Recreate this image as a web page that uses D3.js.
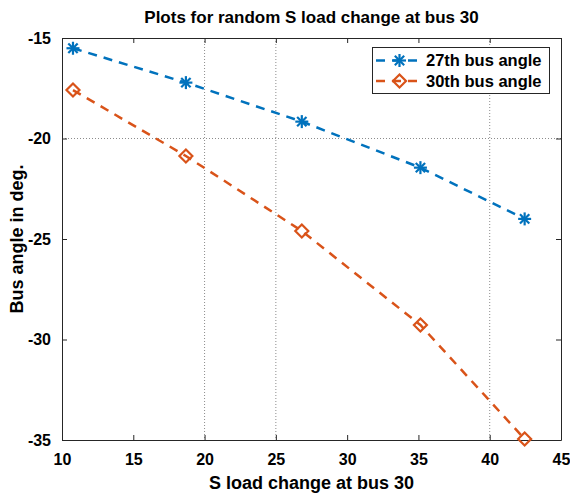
<!DOCTYPE html>
<html>
<head>
<meta charset="utf-8">
<script src="https://cdn.jsdelivr.net/npm/d3@7"></script>
<style>
  body { margin: 0; background: #fff; }
  text { font-family: "Liberation Sans", Arial, sans-serif; font-weight: bold; fill: #000; }
</style>
</head>
<body>
<div id="chart"></div>
<script>
// values
var loadChange = [10.77, 18.69, 26.82, 35.14, 42.45];
var bus27Angle = [-15.51, -17.22, -19.16, -21.45, -24.0];
var bus30Angle = [-17.59, -20.87, -24.60, -29.28, -34.95];
var xTicks = [10, 15, 20, 25, 30, 35, 40, 45];
var yTicks = [-35, -30, -25, -20, -15];
var xGrid = [20, 25, 40];
var yGrid = [-20];
var seriesNames = ["27th bus angle", "30th bus angle"];

var width = 570, height = 494;
var plotL = 62, plotR = 561, plotT = 38, plotB = 440;

var svg = d3.select('#chart').append('svg')
    .attr('width', width)
    .attr('height', height);

var x = d3.scaleLinear().domain([10, 45]).range([plotL, plotR]);
var y = d3.scaleLinear().domain([-35, -15]).range([plotB, plotT]);

// dotted grid lines (only the few that appear in the picture)
svg.append("g").selectAll("line")
  .data(xGrid)
  .enter().append("line")
    .attr("x1", function(d) { return x(d); })
    .attr("x2", function(d) { return x(d); })
    .attr("y1", plotT).attr("y2", plotB)
    .attr("stroke", "#8c8c8c")
    .attr("stroke-width", 1)
    .attr("stroke-dasharray", "1,2");
svg.append("g").selectAll("line")
  .data(yGrid)
  .enter().append("line")
    .attr("y1", function(d) { return y(d); })
    .attr("y2", function(d) { return y(d); })
    .attr("x1", plotL).attr("x2", plotR)
    .attr("stroke", "#8c8c8c")
    .attr("stroke-width", 1)
    .attr("stroke-dasharray", "1,2");

// plain hyphen for negatives, like matlab
var fmt = function(d) { return String(d); };

// axes, ticks pointing inward like matlab
var xAxis = svg.append("g")
    .attr("transform", "translate(0," + plotB + ")")
    .call(d3.axisBottom(x).tickValues(xTicks).tickFormat(fmt).tickSizeInner(-5).tickSizeOuter(0).tickPadding(14));
var xAxisTop = svg.append("g")
    .attr("transform", "translate(0," + plotT + ")")
    .call(d3.axisTop(x).tickValues(xTicks).tickSizeInner(-5).tickSizeOuter(0).tickFormat(""));
var yAxis = svg.append("g")
    .attr("transform", "translate(" + plotL + ",0)")
    .call(d3.axisLeft(y).tickValues(yTicks).tickFormat(fmt).tickSizeInner(-5).tickSizeOuter(0).tickPadding(11));
var yAxisRight = svg.append("g")
    .attr("transform", "translate(" + plotR + ",0)")
    .call(d3.axisRight(y).tickValues(yTicks).tickSizeInner(-5).tickSizeOuter(0).tickFormat(""));

[xAxis, xAxisTop, yAxis, yAxisRight].forEach(function(a) {
  a.selectAll("path").attr("stroke", "#262626").attr("stroke-width", 1);
  a.selectAll("line").attr("stroke", "#262626");
  a.selectAll("text").style("font-size", "16px").attr("fill", "#000");
});
xAxis.selectAll("text").attr("dy", "0.71em");

var line = d3.line()
    .x(function(d) { return x(d[0]); })
    .y(function(d) { return y(d[1]); });

var s27 = loadChange.map(function(v, i) { return [v, bus27Angle[i]]; });
var s30 = loadChange.map(function(v, i) { return [v, bus30Angle[i]]; });

var blue = "#0072BD", orange = "#D95319";

function drawStar(g, cx, cy, color) {
  var r = 6.5;
  var s = r * 0.72;
  var segs = [[-r, 0, r, 0], [0, -r, 0, r], [-s, -s, s, s], [-s, s, s, -s]];
  segs.forEach(function(sg) {
    g.append("line")
      .attr("x1", cx + sg[0]).attr("y1", cy + sg[1])
      .attr("x2", cx + sg[2]).attr("y2", cy + sg[3])
      .attr("stroke", color).attr("stroke-width", 2.2);
  });
}
function drawDiamond(g, cx, cy, color) {
  var r = 6.5;
  g.append("path")
    .attr("d", "M" + cx + "," + (cy - r) + "L" + (cx + r) + "," + cy + "L" + cx + "," + (cy + r) + "L" + (cx - r) + "," + cy + "Z")
    .attr("fill", "none")
    .attr("stroke", color).attr("stroke-width", 2.2);
}

svg.append("path").datum(s27)
    .attr("d", line)
    .attr("fill", "none")
    .attr("stroke", blue).attr("stroke-width", 2.5)
    .attr("stroke-dasharray", "9,7");
svg.append("path").datum(s30)
    .attr("d", line)
    .attr("fill", "none")
    .attr("stroke", orange).attr("stroke-width", 2.5)
    .attr("stroke-dasharray", "9,7");

var marks = svg.append("g");
s27.forEach(function(d) { drawStar(marks, x(d[0]), y(d[1]), blue); });
s30.forEach(function(d) { drawDiamond(marks, x(d[0]), y(d[1]), orange); });

// legend
var lg = svg.append("g");
lg.append("rect")
  .attr("x", 372.5).attr("y", 47.5)
  .attr("width", 177).attr("height", 46)
  .attr("fill", "#fff").attr("stroke", "#262626").attr("stroke-width", 1);
var rows = [{c: blue, m: drawStar}, {c: orange, m: drawDiamond}];
rows.forEach(function(r, i) {
  var ly = 60.5 + i * 20.5;
  lg.append("line")
    .attr("x1", 376).attr("x2", 423)
    .attr("y1", ly).attr("y2", ly)
    .attr("stroke", r.c).attr("stroke-width", 2.5)
    .attr("stroke-dasharray", "9,7");
  r.m(lg, 399.5, ly, r.c);
  lg.append("text")
    .attr("x", 426).attr("y", ly)
    .attr("dy", "0.35em")
    .style("font-size", "16.5px")
    .text(seriesNames[i]);
});

// title and axis labels
svg.append("text")
  .attr("x", (plotL + plotR) / 2).attr("y", 23)
  .attr("text-anchor", "middle")
  .style("font-size", "17px")
  .text("Plots for random S load change at bus 30");
svg.append("text")
  .attr("x", (plotL + plotR) / 2).attr("y", 489)
  .attr("text-anchor", "middle")
  .style("font-size", "18px")
  .text("S load change at bus 30");
svg.append("text")
  .attr("transform", "translate(23," + ((plotT + plotB) / 2) + ") rotate(-90)")
  .attr("text-anchor", "middle")
  .style("font-size", "18px")
  .text("Bus angle in deg.");
</script>
</body>
</html>
